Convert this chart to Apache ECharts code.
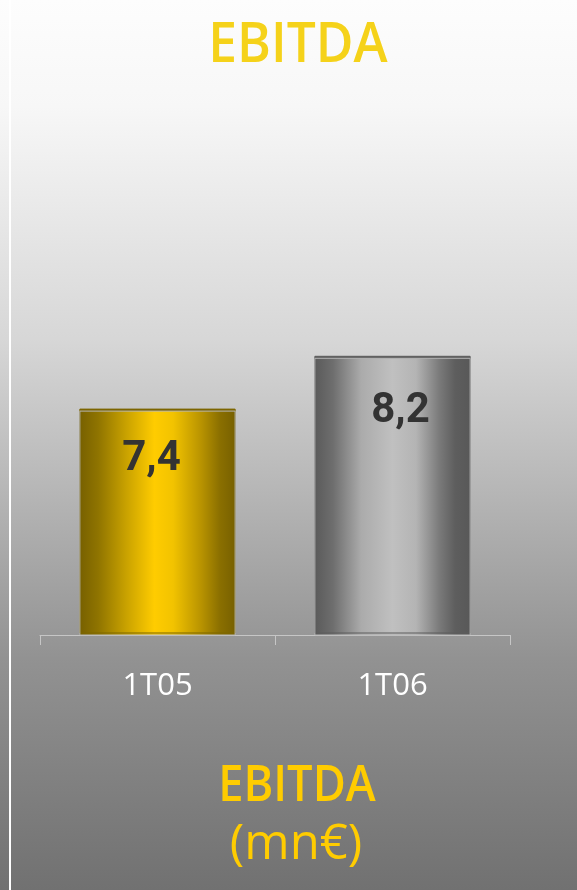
<!DOCTYPE html>
<html>
<head>
<meta charset="utf-8">
<script src="https://cdn.jsdelivr.net/npm/echarts@6/dist/echarts.min.js"></script>
<style>
  html, body { margin: 0; padding: 0; }
  #chart { width: 577px; height: 890px; }
</style>
</head>
<body>
<div id="chart"></div>
<script>
// EBITDA per quarter, millions of euros
const categories = ['1T05', '1T06'];
const ebitda = [7.4, 8.2];
const chartTitle = 'EBITDA';
const unitTitle = 'EBITDA';
const unitLabel = '(mn€)';

// horizontal "cylinder" shading for each bar
function shade(stops) {
  return new echarts.graphic.LinearGradient(0, 0, 1, 0,
    stops.map(function (s) { return { offset: s[0], color: s[1] }; }));
}
const barFills = [
  shade([[0, '#776000'], [0.12, '#8f7400'], [0.3, '#c9a200'], [0.48, '#ffcc00'], [0.6, '#f2c300'], [0.78, '#b89300'], [0.9, '#8a6f00'], [1, '#776000']]),
  shade([[0, '#5a5a5a'], [0.12, '#6e6e6e'], [0.3, '#ababab'], [0.5, '#c0c0c0'], [0.65, '#b4b4b4'], [0.8, '#7a7a7a'], [0.9, '#5e5e5e'], [1, '#585858']])
];
const barTopEdge = ['#7d6600', '#5c5c5c'];
// value labels sit slightly off-centre inside each bar
const labelNudge = [[-6, 4], [8, 9]];

const titleX = 298;

const chart = echarts.init(document.getElementById('chart'), null, { renderer: 'canvas' });

chart.setOption({
  backgroundColor: new echarts.graphic.LinearGradient(0, 0, 0, 1, [
    { offset: 0, color: '#fdfdfd' },
    { offset: 0.12, color: '#f7f7f7' },
    { offset: 0.38, color: '#d7d7d7' },
    { offset: 0.74, color: '#929292' },
    { offset: 1, color: '#717171' }
  ]),
  animation: false,
  graphic: [
    { type: 'rect', left: 9, top: 0, shape: { width: 2, height: 890 }, style: { fill: '#ffffff' }, silent: true },
    {
      type: 'text', x: titleX, y: 18, scaleX: 0.92, silent: true,
      style: { text: chartTitle, fontFamily: 'Open Sans', fontWeight: 600, fontSize: 56, fill: '#f5d21a', align: 'center', verticalAlign: 'top' }
    },
    {
      type: 'text', x: titleX - 1, y: 762, scaleX: 0.905, silent: true,
      style: { text: unitTitle, fontFamily: 'Open Sans', fontWeight: 600, fontSize: 50, fill: '#ffcc00', align: 'center', verticalAlign: 'top' }
    },
    {
      type: 'text', x: titleX - 2, y: 821, silent: true,
      style: { text: unitLabel, fontFamily: 'Open Sans', fontWeight: 'normal', fontSize: 49, fill: '#ffcc00', align: 'center', verticalAlign: 'top' }
    }
  ],
  grid: { left: 40, right: 67, top: 107, bottom: 255, containLabel: false },
  xAxis: {
    type: 'category',
    data: categories,
    axisLine: { lineStyle: { color: '#c6c6c6', width: 1 } },
    axisTick: { show: true, length: 10, lineStyle: { color: '#c6c6c6' } },
    axisLabel: { color: '#ffffff', fontFamily: 'Open Sans', fontSize: 31, margin: 36 }
  },
  yAxis: {
    type: 'value',
    min: 4,
    max: 12,
    show: false,
    splitLine: { show: false }
  },
  series: [{
    type: 'bar',
    barWidth: '66.5%',
    data: ebitda.map(function (v, i) {
      return {
        value: v,
        itemStyle: { color: barFills[i], shadowColor: barTopEdge[i], shadowOffsetY: -2, shadowBlur: 0 },
        label: { offset: labelNudge[i] }
      };
    }),
    itemStyle: { borderColor: '#b5b5b5', borderWidth: 1 },
    label: {
      show: true,
      position: 'insideTop',
      distance: 24,
      fontFamily: 'Roboto',
      fontWeight: 'bold',
      fontSize: 42,
      color: '#333333',
      formatter: function (p) { return String(p.value).replace('.', ','); }
    }
  }]
});
</script>
</body>
</html>
